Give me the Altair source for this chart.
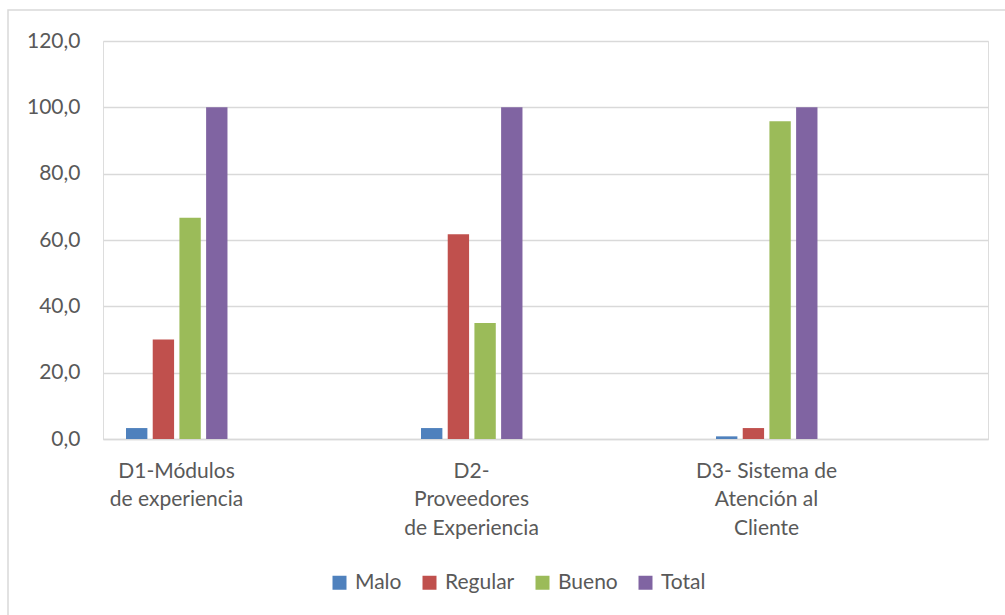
import altair as alt
import pandas as pd

# ---- data ----
categories = [
    "D1-Módulos\nde experiencia",
    "D2-\nProveedores\nde Experiencia",
    "D3- Sistema de\nAtención al\nCliente",
]
series = ["Malo", "Regular", "Bueno", "Total"]
malo = [3.3, 3.3, 0.8]
regular = [30.0, 61.7, 3.3]
bueno = [66.7, 35.0, 95.8]
total = [100.0, 100.0, 100.0]
colors = ["#4F81BD", "#C0504D", "#9BBB59", "#8064A2"]
y_ticks = [0, 20, 40, 60, 80, 100, 120]
# empty slots so the bar group sits in the left part of each category band
empty_slots = ["_e1", "_e2", "_e3", "_e4", "_e5", "_e6"]

rows = []
for name, vals in zip(series, [malo, regular, bueno, total]):
    for cat, v in zip(categories, vals):
        rows.append({"category": cat, "serie": name, "valor": v})
df = pd.DataFrame(rows)

TEXT = "#595959"
GRID = "#d9d9d9"
FONT = "Lato"
FS = 21

bars = alt.Chart(df).mark_bar().encode(
    x=alt.X(
        "category:N",
        sort=categories,
        scale=alt.Scale(paddingInner=0, paddingOuter=0),
        axis=alt.Axis(
            title=None,
            labelExpr="split(datum.label, '\\n')",
            labelAngle=0,
            labelOffset=-74,
            labelPadding=21,
            labelLineHeight=28.5,
            labelFontSize=FS,
            labelColor=TEXT,
            labelFont=FONT,
            ticks=False,
            domainColor=GRID,
            domainWidth=1.5,
            grid=False,
        ),
    ),
    xOffset=alt.XOffset(
        "serie:N",
        scale=alt.Scale(domain=series + empty_slots, paddingInner=0.2, paddingOuter=0.625, align=0.69),
    ),
    y=alt.Y(
        "valor:Q",
        scale=alt.Scale(domain=[0, 120], nice=False),
        axis=alt.Axis(
            title=None,
            values=y_ticks,
            labelExpr="replace(format(datum.value, '.1f'), '.', ',')",
            labelPadding=23,
            labelFontSize=FS,
            labelColor=TEXT,
            labelFont=FONT,
            ticks=False,
            domain=False,
            grid=True,
            gridColor=GRID,
            gridWidth=1.5,
        ),
    ),
    color=alt.Color(
        "serie:N",
        sort=series,
        scale=alt.Scale(domain=series, range=colors),
        legend=alt.Legend(
            title=None,
            orient="none",
            direction="horizontal",
            legendX=226,
            legendY=531,
            symbolType="square",
            symbolSize=196,
            symbolStrokeWidth=0,
            labelFontSize=FS,
            labelColor=TEXT,
            labelFont=FONT,
            labelOffset=5,
            columnPadding=17,
        ),
    ),
)

frame = alt.Chart(pd.DataFrame({"a": [0]})).mark_rect(
    filled=False, stroke=GRID, strokeWidth=1.5
).encode(
    x=alt.value(-95), x2=alt.value(1200), y=alt.value(-31), y2=alt.value(800)
)

chart = alt.layer(frame, bars).properties(
    width=885,
    height=398,
    autosize=alt.AutoSizeParams(type="none"),
    padding={"left": 103, "top": 41, "right": 17, "bottom": 176},
    background="white",
).configure_view(stroke=None).configure(font=FONT)

chart.save("out.html", embed_options={"renderer": "svg", "actions": False})
